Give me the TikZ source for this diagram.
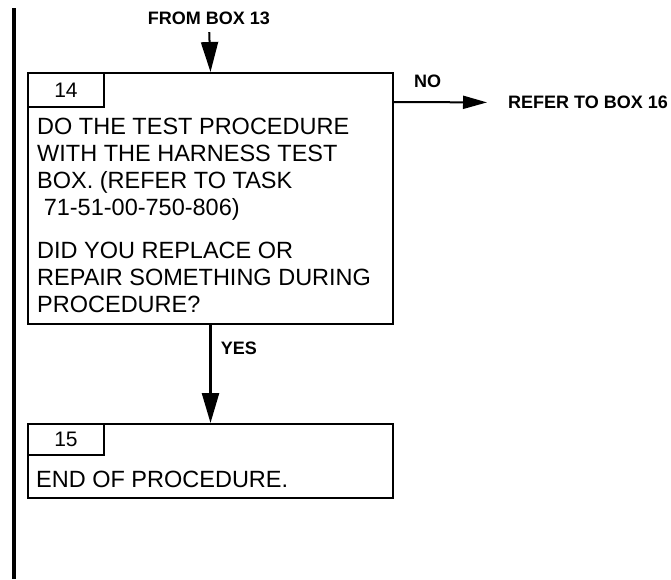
\documentclass[tikz,border=0pt]{standalone}
\usepackage{fontspec}
\setmainfont{Liberation Sans}
\usetikzlibrary{arrows.meta}

\tikzset{
  stepbox/.style={draw, line width=2pt, rectangle, inner sep=0pt, anchor=north west},
  numtab/.style={draw, line width=2pt, inner sep=0pt, anchor=north west, minimum width=76pt, minimum height=34pt, font=\fontsize{21}{25}\selectfont},
  body/.style={anchor=north west, inner sep=0pt, align=left, font=\fontsize{23.5}{27}\selectfont},
  lbl/.style={inner sep=0pt, font=\bfseries\fontsize{18}{22}\selectfont},
  flow/.style={line width=2.5pt, -{Triangle[length=30pt,width=17pt]}},
}

\begin{document}
\begin{tikzpicture}[x=1pt,y=-1pt]
\useasboundingbox (0,0) rectangle (671,579);

% change bar at the left margin
\draw[line width=4pt] (13.5,8) -- (13.5,579);

% box 14
\node[stepbox, minimum width=365pt, minimum height=251pt] (box14) at (27,72) {};
\node[numtab] (tab14) at (box14.north west) {14};
\node[body] (txt14a) at (37,118) {DO THE TEST PROCEDURE\\WITH THE HARNESS TEST\\BOX. (REFER TO TASK\\\hspace*{0.28em}71-51-00-750-806)};
\node[body] (txt14b) at (37,242) {DID YOU REPLACE OR\\REPAIR SOMETHING DURING\\PROCEDURE?};

% box 15
\node[stepbox, minimum width=365pt, minimum height=74pt] (box15) at (27,423) {};
\node[numtab, minimum height=31pt] (tab15) at (box15.north west) {15};
\node[body] (txt15) at (36,471) {END OF PROCEDURE.};

% entry and exits
\node[lbl] (from13) at (209,18) {FROM BOX 13};
\node[lbl, anchor=west] (refer16) at (508,102.5) {REFER TO BOX 16};
\node[lbl] (no) at (427.5,81.5) {NO};

\draw[flow, line width=2pt, shorten <=7.5pt] (from13.south) -- (box14.north);
\draw[flow, line width=2pt, -{Triangle[length=24pt,width=13pt]}, shorten >=21pt] ([yshift=-30pt]box14.north east) -- (refer16.west);
\draw[flow] (box14.south) -- node[lbl, anchor=north west, pos=0.16, xshift=9pt] (yes) {YES} (box15.north);
\end{tikzpicture}
\end{document}
